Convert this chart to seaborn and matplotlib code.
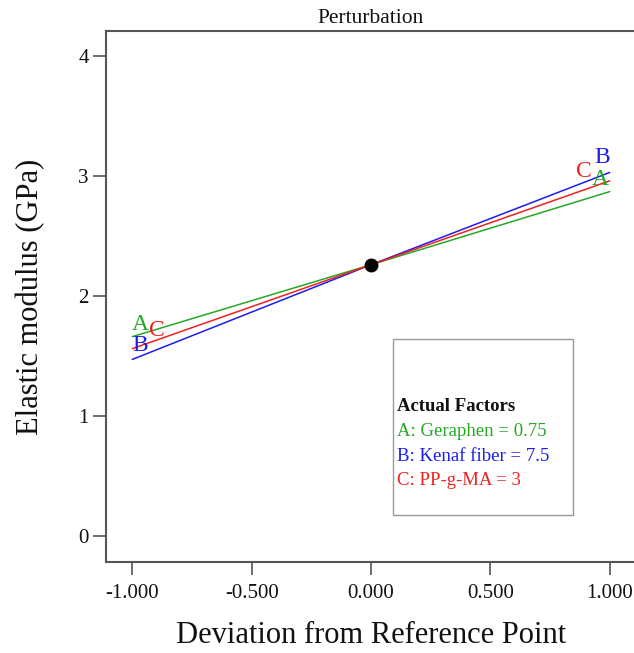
import matplotlib
matplotlib.use("Agg")
import matplotlib.pyplot as plt
from matplotlib.patches import Rectangle
import seaborn as sns
import pandas as pd

# Coded deviation from the reference point
deviation = [-1.0, 0.0, 1.0]

# Predicted elastic modulus (GPa) along each factor's perturbation path
factor_a = [1.66, 2.26, 2.87]   # A: Geraphen
factor_b = [1.47, 2.26, 3.03]   # B: Kenaf fiber
factor_c = [1.56, 2.26, 2.96]   # C: PP-g-MA

factor_names = ["A", "B", "C"]
factor_colors = {"A": "#25a825", "B": "#1c1cf0", "C": "#f02020"}

reference_value = 2.26

x_ticks = [-1.0, -0.5, 0.0, 0.5, 1.0]
x_tick_labels = ["-1.000", "-0.500", "0.000", "0.500", "1.000"]
y_ticks = [0, 1, 2, 3, 4]

legend_title = "Actual Factors"
legend_lines = [
    ("A: Geraphen = 0.75", "A"),
    ("B: Kenaf fiber = 7.5", "B"),
    ("C: PP-g-MA = 3", "C"),
]

df = pd.DataFrame({
    "deviation": deviation * 3,
    "modulus": factor_a + factor_b + factor_c,
    "factor": [n for n in factor_names for _ in deviation],
})

sns.set_theme(style="white")
plt.rcParams["font.family"] = ["Liberation Serif", "DejaVu Serif"]

fig = plt.figure(figsize=(6.34, 6.53), dpi=100)
ax = fig.add_axes([106 / 634, 91 / 653, 530 / 634, 531 / 653])

sns.lineplot(data=df, x="deviation", y="modulus", hue="factor",
             palette=factor_colors, linewidth=1.1, legend=False, ax=ax)

# Reference point marker
ax.plot([0.0], [reference_value], "o", color="black", markersize=9, zorder=5)

# Factor letters at both ends of each trace (offsets in pixels, up is positive)
series = {"A": factor_a, "B": factor_b, "C": factor_c}
left_offsets = {"A": (8, 12), "B": (8, 14), "C": (25, 18)}
right_offsets = {"A": (-9, 12), "B": (-8, 15), "C": (-26, 9)}
for name in ["C", "A", "B"]:
    vals = series[name]
    ax.annotate(name, (deviation[0], vals[0]), xytext=left_offsets[name],
                textcoords="offset pixels", ha="center", va="center",
                color=factor_colors[name], fontsize=17)
    ax.annotate(name, (deviation[-1], vals[-1]), xytext=right_offsets[name],
                textcoords="offset pixels", ha="center", va="center",
                color=factor_colors[name], fontsize=17)

ax.set_xlim(-1.11, 1.11)
ax.set_ylim(-0.22, 4.21)
ax.set_xticks(x_ticks)
ax.set_xticklabels(x_tick_labels)
ax.set_yticks(y_ticks)

spine_color = "#555555"
for side in ["left", "bottom", "top", "right"]:
    ax.spines[side].set_color(spine_color)
    ax.spines[side].set_linewidth(1.5)
    ax.spines[side].set_visible(True)

ax.tick_params(axis="both", direction="out", length=9.5, width=1.2,
               color=spine_color, labelsize=15, labelcolor="#111111")
ax.tick_params(axis="x", pad=6)
ax.tick_params(axis="y", pad=3)
ax.tick_params(bottom=True, left=True)

ax.set_title("Perturbation", fontsize=15.5, pad=6, color="#111111")
ax.set_xlabel("Deviation from Reference Point", fontsize=22, color="#111111",
              va="center")
ax.xaxis.set_label_coords(0.5, -0.1375)
ax.set_ylabel("Elastic modulus (GPa)", fontsize=22, color="#111111",
              va="center")
ax.yaxis.set_label_coords(-0.1415, 0.5)

# Actual factors box
ax.add_patch(Rectangle((0.5415, 0.0885), 0.3395, 0.3315, transform=ax.transAxes,
                       fill=False, edgecolor="#999999", linewidth=1.0))
ax.text(0.549, 0.292, legend_title, transform=ax.transAxes, fontsize=13.5,
        fontweight="bold", color="#111111", va="center", ha="left")
for i, (label, key) in enumerate(legend_lines):
    ax.text(0.549, 0.245 - 0.046 * i, label, transform=ax.transAxes,
            fontsize=13.5, color=factor_colors[key], va="center", ha="left")

ax.set_facecolor("white")
fig.savefig("out.png", dpi=100, facecolor="white")
